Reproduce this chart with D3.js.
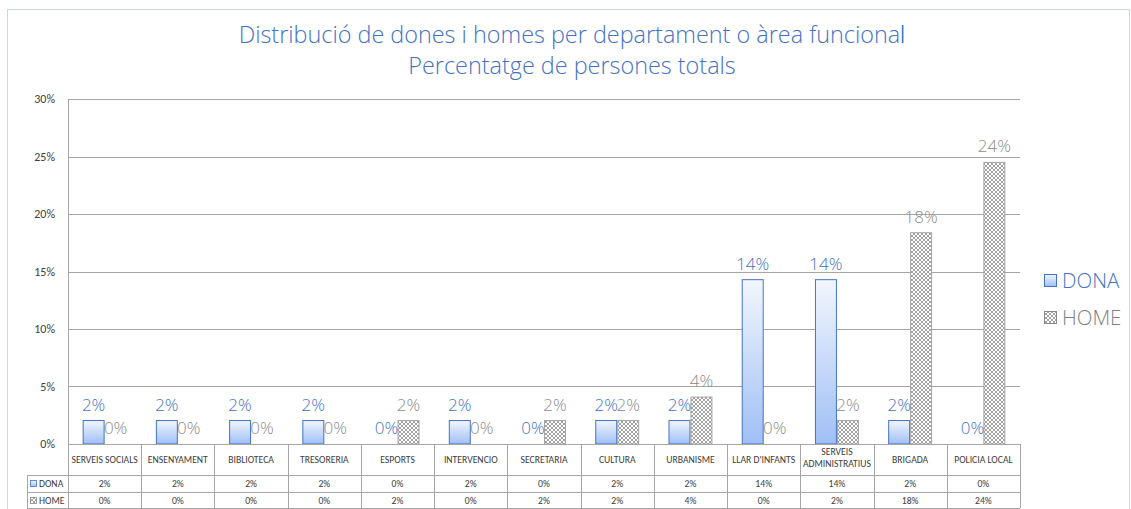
<!DOCTYPE html>
<html><head><meta charset="utf-8">
<script src="https://cdn.jsdelivr.net/npm/d3@7"></script>
<style>
html,body{margin:0;padding:0;background:#fff;}
svg{display:block;}
</style></head>
<body>
<svg id="chart" width="1131" height="509"></svg>
<script>
const categories = ["SERVEIS SOCIALS","ENSENYAMENT","BIBLIOTECA","TRESORERIA","ESPORTS","INTERVENCIO","SECRETARIA","CULTURA","URBANISME","LLAR D'INFANTS","SERVEIS ADMINISTRATIUS","BRIGADA","POLICIA LOCAL"];
const seriesNames = ["DONA","HOME"];
const dona = [0.0204,0.0204,0.0204,0.0204,0,0.0204,0,0.0204,0.0204,0.1429,0.1429,0.0204,0];
const home = [0,0,0,0,0.0204,0,0.0204,0.0204,0.0408,0,0.0204,0.1837,0.2449];
const yTicks = [0,0.05,0.10,0.15,0.20,0.25,0.30];
const titleLines = ["Distribució de dones i homes per departament o àrea funcional","Percentatge de persones totals"];

const svg = d3.select("#chart");
const m = {left:68, right:1020, top:99, bottom:444};
const rowH = [31, 17, 16];
const tableLeft = 27;
const fontMain = "Carlito, Calibri, 'Open Sans', 'Liberation Sans', sans-serif";
const fontLight = "'Open Sans', Lato, sans-serif";
const blue = "#4472c4", grey = "#7f7f7f", gridC = "#a6a6a6", txt = "#404040";

const defs = svg.append("defs");
const grad = defs.append("linearGradient").attr("id","gDona").attr("x1",0).attr("y1",0).attr("x2",0).attr("y2",1);
grad.append("stop").attr("offset","0%").attr("stop-color","#f2f6fd");
grad.append("stop").attr("offset","100%").attr("stop-color","#9fbff5");
const pat = defs.append("pattern").attr("id","pHome").attr("patternUnits","userSpaceOnUse").attr("width",4).attr("height",4);
pat.append("rect").attr("width",4).attr("height",4).attr("fill","#ffffff");
pat.append("path").attr("d","M0,0 L4,4 M4,0 L0,4").attr("stroke","#8a8a8a").attr("stroke-width",0.8);

// outer dotted border
svg.append("rect").attr("x",7.5).attr("y",9.5).attr("width",1122).attr("height",520)
  .attr("fill","none").attr("stroke","#8eaadb").attr("stroke-dasharray","1,1");

// title
titleLines.forEach((t,i)=>{
  svg.append("text").attr("x",572).attr("y",43+i*31).attr("text-anchor","middle")
    .attr("font-family",fontLight).attr("font-weight",300)
    .attr("font-size",23.4).attr("fill",blue).text(t);
});
// text caret after title
svg.append("line").attr("x1",902.5).attr("x2",902.5).attr("y1",25).attr("y2",43).attr("stroke",blue).attr("stroke-width",1.2);

const x0 = d3.scaleBand().domain(categories).range([m.left,m.right]).padding(0);
const x1 = d3.scaleBand().domain(seriesNames).range([x0.bandwidth()*0.2, x0.bandwidth()*0.8]).padding(0);
const y = d3.scaleLinear().domain([0,0.30]).range([m.bottom,m.top]);

// gridlines
svg.append("g").selectAll("line").data(yTicks).join("line")
  .attr("x1",m.left).attr("x2",m.right).attr("y1",d=>Math.round(y(d))+0.5).attr("y2",d=>Math.round(y(d))+0.5)
  .attr("stroke",gridC).attr("stroke-width",1);

// y axis
const yAxis = d3.axisLeft(y).tickValues(yTicks).tickFormat(d3.format(".0%")).tickSize(0).tickPadding(13);
const ga = svg.append("g").attr("transform",`translate(${m.left},0)`).call(yAxis);
ga.select(".domain").remove();
ga.selectAll("text").attr("font-family",fontMain).attr("font-size",12).attr("fill",txt);

// bars
const series = [dona, home];
const g = svg.append("g");
categories.forEach((c,i)=>{
  seriesNames.forEach((s,j)=>{
    const v = series[j][i];
    const bx = x0(c)+x1(s);
    if (v>0) {
      g.append("rect").attr("x",bx+0.5).attr("y",y(v)).attr("width",x1.bandwidth()-1).attr("height",y(0)-y(v))
        .attr("fill", j===0?"url(#gDona)":"url(#pHome)").attr("stroke", j===0?blue:"#a5a5a5").attr("stroke-width",1);
    }
  });
});
// labels
categories.forEach((c,i)=>{
  seriesNames.forEach((s,j)=>{
    const v = series[j][i];
    const bx = x0(c)+x1(s)+x1.bandwidth()/2;
    g.append("text").attr("x",bx).attr("y",y(v)-10).attr("text-anchor","middle")
      .attr("font-family",fontLight).attr("font-weight",300).attr("font-size",17).attr("fill", j===0?blue:"#8c8c8c")
      .text(d3.format(".0%")(v));
  });
});

// left axis line
svg.append("line").attr("x1",m.left+0.5).attr("x2",m.left+0.5).attr("y1",m.top).attr("y2",m.bottom+rowH[0]+rowH[1]+rowH[2]).attr("stroke",gridC);

// table
const tg = svg.append("g");
const t0 = m.bottom, t1 = t0+rowH[0], t2 = t1+rowH[1], t3 = t2+rowH[2];
[t0,t1,t2,t3].forEach((yy,k)=>{
  tg.append("line").attr("x1",k===0?m.left:tableLeft).attr("x2",m.right).attr("y1",yy+0.5).attr("y2",yy+0.5).attr("stroke",gridC);
});
tg.append("line").attr("x1",tableLeft+0.5).attr("x2",tableLeft+0.5).attr("y1",t1).attr("y2",t3).attr("stroke",gridC);
categories.forEach((c,i)=>{
  const xr = x0(c)+x0.bandwidth();
  tg.append("line").attr("x1",Math.round(xr)+0.5).attr("x2",Math.round(xr)+0.5).attr("y1",t0).attr("y2",t3).attr("stroke",gridC);
  const cx = x0(c)+x0.bandwidth()/2;
  const words = c==="SERVEIS ADMINISTRATIUS" ? ["SERVEIS","ADMINISTRATIUS"] : [c];
  words.forEach((w,k)=>{
    const ty = words.length===1 ? t0+19 : t0+11+k*12;
    const te = tg.append("text").attr("x",cx).attr("y",ty).attr("text-anchor","middle")
      .attr("font-family",fontMain).attr("font-size",9.7).attr("fill",txt).text(w);
    const len = te.node().getComputedTextLength();
    if (len > x0.bandwidth()-4) te.attr("textLength",x0.bandwidth()-4).attr("lengthAdjust","spacingAndGlyphs");
  });
  [dona[i],home[i]].forEach((v,k)=>{
    tg.append("text").attr("x",cx).attr("y",(k===0?t1:t2)+12).attr("text-anchor","middle")
      .attr("font-family",fontMain).attr("font-size",9.7).attr("fill",txt).text(d3.format(".0%")(v));
  });
});
// row headers
seriesNames.forEach((s,k)=>{
  const ry = k===0?t1:t2;
  tg.append("rect").attr("x",30.5).attr("y",ry+5.5).attr("width",6).attr("height",6)
    .attr("fill",k===0?"url(#gDona)":"url(#pHome)").attr("stroke",k===0?blue:"#8a8a8a").attr("stroke-width",0.8);
  tg.append("text").attr("x",39).attr("y",ry+12).attr("font-family",fontMain).attr("font-size",9.7).attr("fill",txt).text(s);
});

// legend
seriesNames.forEach((s,k)=>{
  const ly = 274 + k*37;
  svg.append("rect").attr("x",1044.5).attr("y",ly+0.5).attr("width",12).attr("height",12)
    .attr("fill",k===0?"url(#gDona)":"url(#pHome)").attr("stroke",k===0?blue:"#8a8a8a");
  svg.append("text").attr("x",1062).attr("y",ly+14).attr("font-family",fontLight).attr("font-weight",300).attr("font-size",20.5)
    .attr("fill",k===0?blue:grey).text(s);
});
</script>
</body></html>
